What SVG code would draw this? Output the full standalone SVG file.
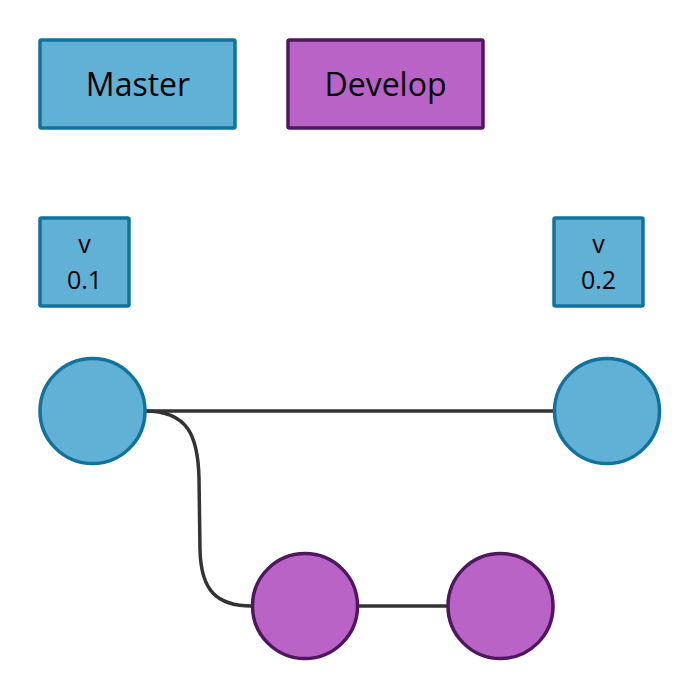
<svg xmlns="http://www.w3.org/2000/svg" width="700" height="700" viewBox="0 0 700 700">
<style>
.blue{fill:#61b0d6;stroke:#10739e;stroke-width:3.5}
.purple{fill:#b963c6;stroke:#4f1760;stroke-width:3.5}
.lbl{font-family:"Open Sans","Noto Sans",sans-serif;fill:#000;text-anchor:middle}
.big{font-size:32px}
.small{font-size:25px}
.edge{fill:none;stroke:#333;stroke-width:3.5}
</style>
<rect width="700" height="700" fill="#fff"/>
<g id="connectors">
<path class="edge" d="M145,411 L554,411"/>
<path class="edge" d="M145,411 C188,411 198,436 199,478 L200,550 C201,590 216,606 252,606"/>
<path class="edge" d="M357,606 L448,606"/>
</g>
<g id="master"><rect class="blue" x="40" y="40" width="195" height="88" rx="1.5"/><text class="lbl big" x="138" y="96">Master</text></g>
<g id="develop"><rect class="purple" x="288" y="40" width="195" height="88" rx="1.5"/><text class="lbl big" x="385.5" y="96">Develop</text></g>
<g id="v01"><rect class="blue" x="40" y="218" width="89" height="88" rx="1.5"/><text class="lbl small" x="84.5" y="253">v</text><text class="lbl small" x="84.5" y="289">0.1</text></g>
<g id="v02"><rect class="blue" x="554" y="218" width="89" height="88" rx="1.5"/><text class="lbl small" x="598.5" y="253">v</text><text class="lbl small" x="598.5" y="289">0.2</text></g>
<g id="m1"><circle class="blue" cx="92.5" cy="411" r="52.5"/></g>
<g id="m2"><circle class="blue" cx="607" cy="411" r="52.5"/></g>
<g id="d1"><circle class="purple" cx="305" cy="606" r="52.5"/></g>
<g id="d2"><circle class="purple" cx="500.5" cy="606" r="52.5"/></g>
</svg>
